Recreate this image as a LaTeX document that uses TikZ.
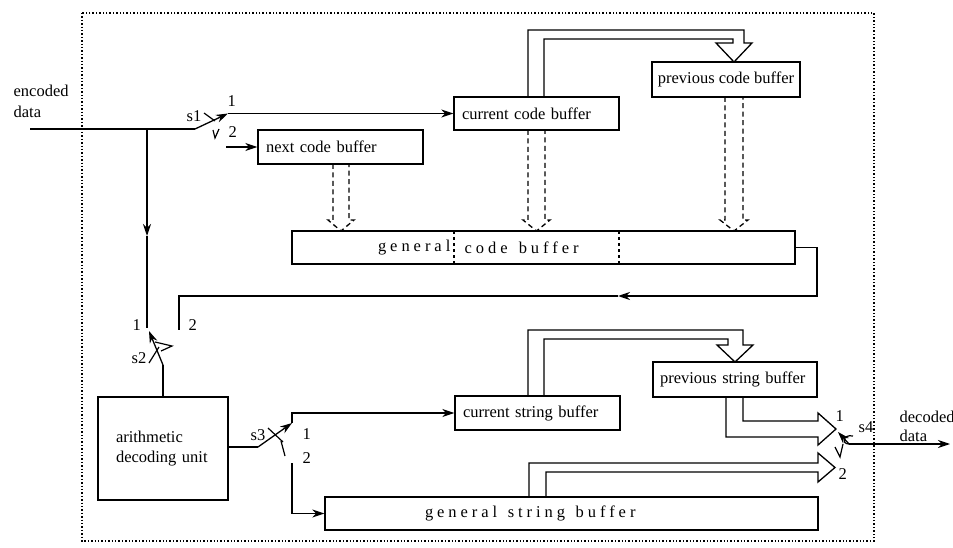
\documentclass[tikz,border=0pt]{standalone}
\usepackage{fontspec}
\setmainfont{Liberation Serif}
\newfontfamily\spaced[LetterSpace=24]{Liberation Serif}
\usetikzlibrary{arrows.meta,calc}
\begin{document}
\begin{tikzpicture}[x=1pt,y=-1pt, line width=1.3pt,
  every node/.style={font=\fontsize{16.5}{20}\selectfont, inner sep=0pt},
  box/.style={draw, line width=1.4pt, minimum height=34pt, align=left, inner xsep=8pt},
  arr/.style={-{Stealth[length=12pt,width=8pt]}},
  hol/.style={line width=1.3pt, line join=miter},
  dsh/.style={dash pattern=on 5pt off 3.5pt, line width=1.3pt},
  frame/.style={dotted, line width=1.4pt},
  tick/.style={line width=1.2pt}]
\useasboundingbox (0,0) rectangle (953,548);
\draw[frame] (82,13) rectangle (874,541);

% boxes
\node[box, text width=149pt] (nextcode) at (340.5,147) {next code buffer};
\node[box, text width=149pt, minimum height=33pt] (curcode) at (536.5,113.5) {current code buffer};
\node[draw, line width=1.4pt, minimum width=148pt, minimum height=35pt] (prevcode) at (726,79.5) {previous code buffer};
\node[draw, line width=1.4pt, minimum width=503pt, minimum height=33pt] (gencode) at (543.5,247.5) {};
\node[anchor=east] (gcL) at (451,247.5) {\spaced general};
\node[anchor=west] (gcR) at (464,247.5) {\spaced code\hspace{3pt} buffer};
\draw[dashed, line width=1.1pt] (454,231) -- (454,264);
\draw[dashed, line width=1.3pt] (619,231) -- (619,264);

\node[box, text width=94pt, inner xsep=18pt, minimum height=103pt] (arith) at (163,448.5) {arithmetic\\decoding unit};
\node[box, text width=149pt] (curstr) at (537.5,413) {current string buffer};
\node[box, text width=150pt, inner xsep=7pt, minimum height=35pt] (prevstr) at (735,379.5) {previous string buffer};
\node[box, text width=293pt, inner xsep=100pt, minimum height=33pt] (genstr) at (571.5,513.5) {\spaced general\hspace{5pt} string\hspace{5pt} buffer};

% outside labels
\node[anchor=base west] (enc1) at (13,97) {encoded};
\node[anchor=base west] (enc2) at (13,118) {data};
\node[anchor=base west] (dec1) at (899,422) {decoded};
\node[anchor=base west] (dec2) at (899,441) {data};

% switch s1
\coordinate (in) at (30,129);
\coordinate (j) at (147,129);
\coordinate (p1) at (195,129);
\coordinate (c11) at (228,113.5);
\coordinate (c12) at (226,147);
\draw (in) -- (p1);
\draw[arr] (p1) -- (c11);
\draw[arr] (c11) -- (curcode.west);
\draw[arr] (c12) -- (nextcode.west);
\draw[tick] (204,113) -- (215,121);
\draw[tick] (213,130) -- (215,138) -- (219,129);
\node[anchor=base west] (s1) at (186,122) {s1};
\node[anchor=base west] (s1a) at (227,107) {1};
\node[anchor=base west] (s1b) at (228,137.5) {2};

% switch s2
\coordinate (m1) at (147,236);
\coordinate (c21) at (147,328);
\coordinate (p2) at (163,365);
\coordinate (c22) at (179,330);
\draw[arr] (j) -- (m1);
\draw (m1) -- (c21);
\draw (arith.north) -- (p2);
\draw[arr] (p2) -- (149,331);
\draw[tick] (149,363) -- (159,347);
\draw[tick] (155,342) -- (172,346) -- (161,351);
\node[anchor=base west] (s2) at (131,363) {s2};
\node[anchor=base west] (s2a) at (132,330) {1};
\node[anchor=base west] (s2b) at (188,330) {2};

% return line from general code buffer
\coordinate (r1) at (817,296);
\coordinate (rm) at (618,296);
\draw[arr] (gencode.east) -| (r1) -- (rm);
\draw (rm) -| (c22);

% switch s3
\coordinate (p3) at (258,447);
\coordinate (c31) at (292,423);
\coordinate (c32) at (292,463);
\draw (arith.east |- p3) -- (p3);
\draw[arr] (p3) -- (c31);
\draw[arr] (c31) |- (curstr.west);
\draw[arr] (c32) |- (genstr.west);
\draw[tick] (268,428) -- (283,442);
\draw[tick] (281,441) -- (285,456);
\node[anchor=base west] (s3) at (250,440) {s3};
\node[anchor=base west] (s3a) at (302,439) {1};
\node[anchor=base west] (s3b) at (302,463) {2};

% switch s4
\coordinate (p4) at (849,444);
\coordinate (c41) at (838,432);
\coordinate (out) at (950,444);
\draw[arr] (p4) -- (c41);
\draw[arr] (p4) -- (out);
\draw[tick] (853,436) .. controls (843,434) and (841,444) .. (849,444);
\draw[tick] (835,447) -- (840,457) -- (843,444);
\node[anchor=base west] (s4) at (858,432) {s4};
\node[anchor=base west] (s4a) at (835,421) {1};
\node[anchor=base west] (s4b) at (838,479) {2};

% hollow arrows
\draw[hol] (528,97) -- (528,30) -- (744,30) -- (744,43) -- (752,43) -- (734,62) -- (716,43) -- (733,43) -- (733,39) -- (544,39) -- (544,97);
\draw[hol] (528,396) -- (528,330) -- (743,330) -- (743,345) -- (753,345) -- (735,362) -- (717,345) -- (728,345) -- (728,339) -- (544,339) -- (544,396);
\draw[hol] (726,397) -- (726,437) -- (818,437) -- (818,445) -- (836,429) -- (818,413) -- (818,421) -- (743,421) -- (743,397);
\draw[hol] (529,497) -- (529,463) -- (818,463) -- (818,453) -- (835,467.5) -- (818,482) -- (818,472) -- (546,472) -- (546,497);

% dashed arrows into general code buffer
\draw[dsh] (333,164) -- (333,220) -- (328,220) -- (341,231) -- (354,220) -- (349,220) -- (349,164);
\draw[dsh] (528,130) -- (528,220) -- (523,220) -- (536.5,231) -- (550,220) -- (545,220) -- (545,130);
\draw[dsh] (725,97) -- (725,220) -- (720,220) -- (734,231) -- (748,220) -- (743,220) -- (743,97);
\end{tikzpicture}
\end{document}
